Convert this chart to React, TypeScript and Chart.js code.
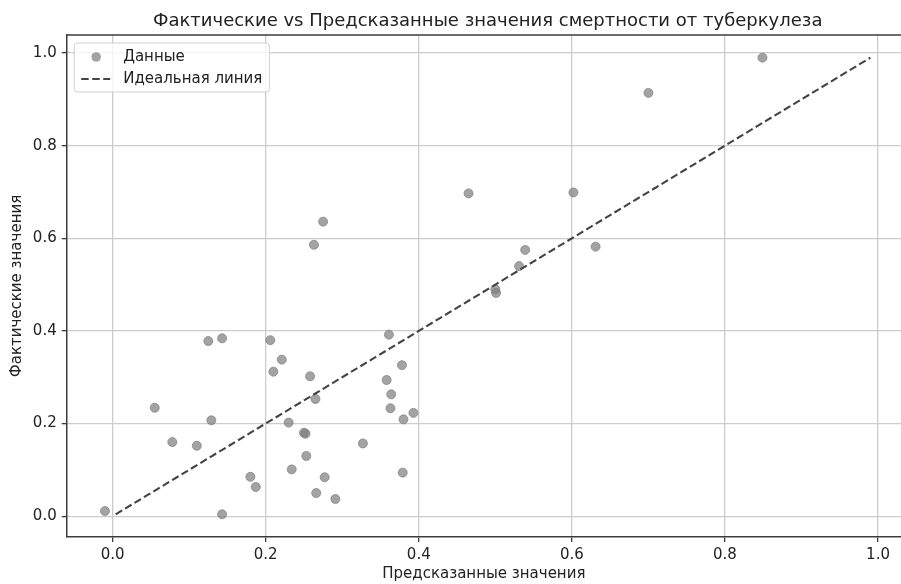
import React, { useEffect, useRef } from "react";
import { Chart, registerables } from "chart.js";

Chart.register(...registerables);

const TITLE = "Фактические vs Предсказанные значения смертности от туберкулеза";
const X_LABEL = "Предсказанные значения";
const Y_LABEL = "Фактические значения";
const SERIES_POINTS = "Данные";
const SERIES_LINE = "Идеальная линия";

const PREDICTED = [
  -0.010, 0.055, 0.078, 0.110, 0.129, 0.125, 0.143, 0.143, 0.180, 0.187,
  0.206, 0.210, 0.221, 0.230, 0.234, 0.250, 0.252, 0.253, 0.258, 0.265,
  0.266, 0.277, 0.291, 0.263, 0.275, 0.327, 0.358, 0.361, 0.363, 0.364,
  0.378, 0.380, 0.379, 0.393, 0.465, 0.500, 0.501, 0.531, 0.539, 0.602,
  0.631, 0.700, 0.849,
];
const ACTUAL = [
  0.011, 0.234, 0.160, 0.152, 0.207, 0.378, 0.384, 0.004, 0.085, 0.063,
  0.380, 0.312, 0.338, 0.202, 0.101, 0.180, 0.178, 0.130, 0.302, 0.253,
  0.050, 0.084, 0.037, 0.586, 0.636, 0.157, 0.294, 0.392, 0.233, 0.263,
  0.326, 0.209, 0.094, 0.223, 0.697, 0.490, 0.482, 0.540, 0.575, 0.699,
  0.582, 0.914, 0.990,
];
const X_TICKS = [0.0, 0.2, 0.4, 0.6, 0.8, 1.0];
const Y_TICKS = [0.0, 0.2, 0.4, 0.6, 0.8, 1.0];
// visible x window (the figure is cropped on the right; full axis ends at 1.04)
const X_RANGE = [-0.06, 1.03];
const X_FULL_MAX = 1.04;
const Y_RANGE = [-0.045, 1.039];

const FONT = "'DejaVu Sans', sans-serif";
const TEXT = "#222222";
const POINT_COLOR = "rgba(128,128,128,0.72)";
const LINE_COLOR = "#444444";
const GRID = "#cccccc";
const SPINE = "#3c3c3c";

const titlePlugin = {
  id: "mplTitle",
  afterDraw(chart: any) {
    const { ctx } = chart;
    const xs = chart.scales.x;
    const cx = xs.getPixelForValue((X_RANGE[0] + X_FULL_MAX) / 2);
    ctx.save();
    ctx.font = `18px ${FONT}`;
    ctx.fillStyle = TEXT;
    ctx.textAlign = "center";
    ctx.textBaseline = "middle";
    ctx.fillText(TITLE, cx, 21);
    ctx.restore();
  },
};

const framePlugin = {
  id: "mplFrame",
  afterDatasetsDraw(chart: any) {
    const { ctx, chartArea } = chart;
    ctx.save();
    ctx.strokeStyle = SPINE;
    ctx.lineWidth = 1.5;
    ctx.beginPath();
    ctx.moveTo(chartArea.left, chartArea.top);
    ctx.lineTo(chartArea.right + 2, chartArea.top);
    ctx.stroke();
    ctx.restore();
  },
};

const legendPlugin = {
  id: "mplLegend",
  afterDraw(chart: any) {
    const { ctx, chartArea } = chart;
    const ds = chart.data.datasets;
    ctx.save();
    ctx.font = `15px ${FONT}`;
    const bx = chartArea.left + 7.5;
    const by = chartArea.top + 8;
    const textX = bx + 49;
    const maxW = Math.max(...ds.map((d: any) => ctx.measureText(d.label).width));
    const bw = textX - bx + maxW + 7;
    const bh = 49;
    const r = 3;
    ctx.beginPath();
    ctx.moveTo(bx + r, by);
    ctx.lineTo(bx + bw - r, by);
    ctx.arcTo(bx + bw, by, bx + bw, by + r, r);
    ctx.lineTo(bx + bw, by + bh - r);
    ctx.arcTo(bx + bw, by + bh, bx + bw - r, by + bh, r);
    ctx.lineTo(bx + r, by + bh);
    ctx.arcTo(bx, by + bh, bx, by + bh - r, r);
    ctx.lineTo(bx, by + r);
    ctx.arcTo(bx, by, bx + r, by, r);
    ctx.closePath();
    ctx.fillStyle = "rgba(255,255,255,0.8)";
    ctx.fill();
    ctx.strokeStyle = "#d0d0d0";
    ctx.lineWidth = 1;
    ctx.stroke();
    ds.forEach((d: any, i: number) => {
      const cy = by + 14 + i * 22;
      if (d.type === "line") {
        ctx.save();
        ctx.strokeStyle = d.borderColor;
        ctx.lineWidth = d.borderWidth;
        ctx.setLineDash(d.borderDash);
        ctx.beginPath();
        ctx.moveTo(bx + 7, cy);
        ctx.lineTo(bx + 36, cy);
        ctx.stroke();
        ctx.restore();
      } else {
        ctx.beginPath();
        ctx.arc(bx + 22, cy, 4.8, 0, Math.PI * 2);
        ctx.fillStyle = d.backgroundColor;
        ctx.fill();
      }
      ctx.fillStyle = TEXT;
      ctx.textAlign = "left";
      ctx.textBaseline = "middle";
      ctx.fillText(d.label, textX, cy);
    });
    ctx.restore();
  },
};

export default function App() {
  const ref = useRef<HTMLCanvasElement | null>(null);

  useEffect(() => {
    if (!ref.current) return;
    const points = PREDICTED.map((x, i) => ({ x, y: ACTUAL[i] }));
    const lo = Math.min(...ACTUAL);
    const hi = Math.max(...ACTUAL);
    const diag = [
      { x: lo, y: lo },
      { x: hi, y: hi },
    ];
    const tickFont = { family: FONT, size: 15 };
    const chart = new Chart(ref.current, {
      type: "scatter",
      data: {
        datasets: [
          {
            type: "scatter",
            label: SERIES_POINTS,
            data: points,
            backgroundColor: POINT_COLOR,
            borderColor: POINT_COLOR,
            borderWidth: 1,
            pointRadius: 4.5,
            order: 1,
          } as any,
          {
            type: "line",
            label: SERIES_LINE,
            data: diag,
            borderColor: LINE_COLOR,
            borderWidth: 2.1,
            borderDash: [7.5, 3.5],
            pointRadius: 0,
            fill: false,
            showLine: true,
            order: 0,
          } as any,
        ],
      },
      options: {
        responsive: false,
        animation: false,
        devicePixelRatio: 1,
        events: [],
        layout: { autoPadding: false, padding: { top: 35, left: 0, right: 0, bottom: 0 } },
        plugins: {
          legend: { display: false },
          title: { display: false },
          tooltip: { enabled: false },
        },
        scales: {
          x: {
            type: "linear",
            min: X_RANGE[0],
            max: X_RANGE[1],
            afterBuildTicks: (s: any) => {
              s.ticks = X_TICKS.map((v) => ({ value: v }));
            },
            afterFit: (s: any) => {
              s.height = 47;
              s.paddingLeft = 0;
              s.paddingRight = 0;
            },
            ticks: {
              callback: (v: any) => Number(v).toFixed(1),
              font: tickFont,
              color: TEXT,
              padding: 4,
              maxRotation: 0,
              autoSkip: false,
            },
            grid: {
              color: GRID,
              lineWidth: 1.3,
              tickLength: 5,
              tickColor: SPINE,
              tickWidth: 1.3,
            },
            border: { display: true, color: SPINE, width: 1.5 },
            title: {
              display: true,
              text: X_LABEL,
              font: tickFont,
              color: TEXT,
              padding: { top: 0, bottom: 1 },
            },
          },
          y: {
            type: "linear",
            min: Y_RANGE[0],
            max: Y_RANGE[1],
            afterBuildTicks: (s: any) => {
              s.ticks = Y_TICKS.map((v) => ({ value: v }));
            },
            afterFit: (s: any) => {
              s.width = 66.7;
            },
            ticks: {
              callback: (v: any) => Number(v).toFixed(1),
              font: tickFont,
              color: TEXT,
              padding: 5,
              autoSkip: false,
            },
            grid: {
              color: GRID,
              lineWidth: 1.3,
              tickLength: 5,
              tickColor: SPINE,
              tickWidth: 1.3,
            },
            border: { display: true, color: SPINE, width: 1.5 },
            title: {
              display: true,
              text: Y_LABEL,
              font: tickFont,
              color: TEXT,
              padding: { top: 8, bottom: 0 },
            },
          },
        },
      },
      plugins: [framePlugin, titlePlugin, legendPlugin],
    } as any);
    return () => chart.destroy();
  }, []);

  return (
    <div
      style={{
        position: "fixed",
        left: 0,
        top: 0,
        width: 901,
        height: 584,
        overflow: "hidden",
        background: "#ffffff",
      }}
    >
      <canvas
        ref={ref}
        width={901}
        height={584}
        style={{ display: "block", width: 901, height: 584 }}
      />
    </div>
  );
}
